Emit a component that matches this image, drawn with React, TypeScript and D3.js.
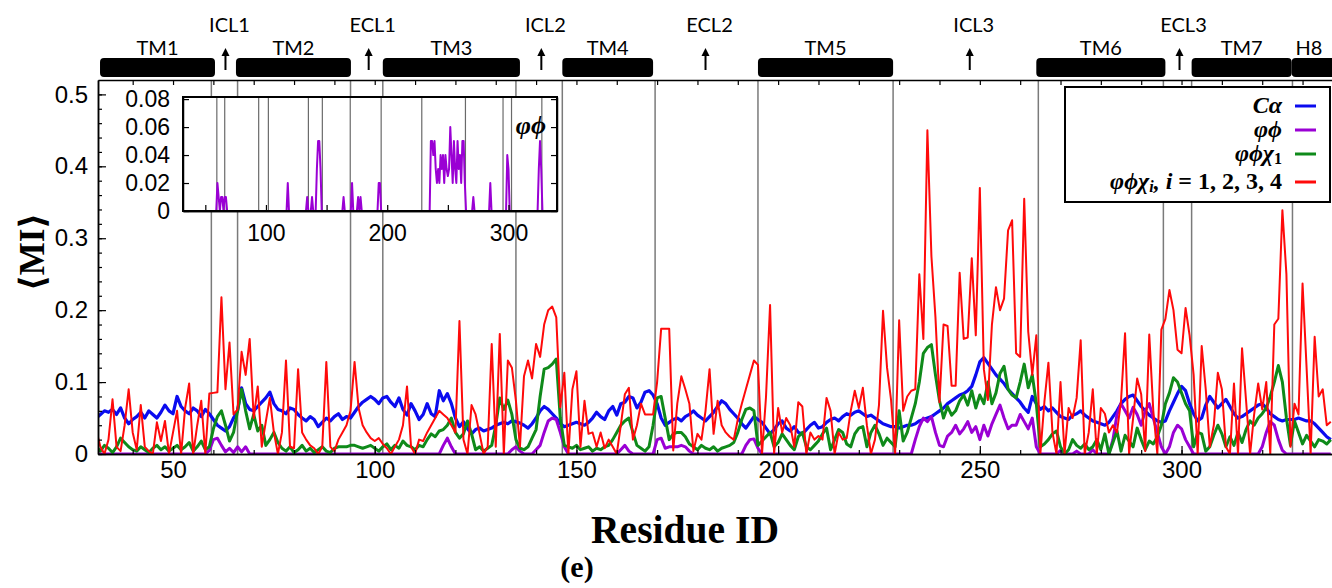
import React, { useEffect, useRef } from "react";
import * as d3 from "d3";

// per-residue MI values, residue 31 .. 337
const firstResidue = 31;

const caMI = [
	0.050, 0.055, 0.060, 0.058, 0.062, 0.055, 0.064, 0.050, 0.042, 0.048,
	0.052, 0.058, 0.050, 0.060, 0.055, 0.050, 0.058, 0.068, 0.060, 0.056,
	0.080, 0.066, 0.060, 0.056, 0.064, 0.060, 0.052, 0.062, 0.056, 0.048,
	0.040, 0.036, 0.032, 0.038, 0.050, 0.060, 0.092, 0.070, 0.062, 0.060,
	0.066, 0.072, 0.078, 0.086, 0.070, 0.062, 0.060, 0.056, 0.064, 0.062,
	0.055, 0.050, 0.046, 0.052, 0.048, 0.038, 0.044, 0.050, 0.046, 0.052,
	0.056, 0.048, 0.052, 0.050, 0.058, 0.066, 0.072, 0.076, 0.080, 0.076,
	0.070, 0.078, 0.080, 0.072, 0.066, 0.078, 0.062, 0.054, 0.070, 0.060,
	0.048, 0.055, 0.070, 0.056, 0.052, 0.088, 0.074, 0.084, 0.070, 0.050,
	0.038, 0.045, 0.035, 0.028, 0.034, 0.036, 0.032, 0.034, 0.036, 0.040,
	0.042, 0.044, 0.042, 0.046, 0.045, 0.043, 0.040, 0.036, 0.042, 0.050,
	0.060, 0.066, 0.062, 0.056, 0.050, 0.042, 0.038, 0.040, 0.042, 0.044,
	0.042, 0.040, 0.044, 0.050, 0.058, 0.052, 0.048, 0.060, 0.066, 0.054,
	0.070, 0.072, 0.080, 0.078, 0.064, 0.072, 0.086, 0.088, 0.082, 0.070,
	0.050, 0.040, 0.044, 0.048, 0.050, 0.046, 0.052, 0.055, 0.060, 0.054,
	0.050, 0.046, 0.052, 0.058, 0.066, 0.074, 0.070, 0.062, 0.056, 0.050,
	0.042, 0.036, 0.044, 0.052, 0.048, 0.044, 0.036, 0.028, 0.034, 0.042,
	0.046, 0.036, 0.032, 0.038, 0.030, 0.028, 0.034, 0.040, 0.044, 0.036,
	0.038, 0.044, 0.048, 0.050, 0.046, 0.052, 0.056, 0.054, 0.058, 0.060,
	0.056, 0.052, 0.054, 0.050, 0.046, 0.042, 0.040, 0.038, 0.038, 0.036,
	0.038, 0.040, 0.040, 0.042, 0.046, 0.048, 0.050, 0.052, 0.056, 0.060,
	0.064, 0.070, 0.074, 0.078, 0.082, 0.084, 0.088, 0.094, 0.110, 0.128,
	0.134, 0.126, 0.118, 0.110, 0.104, 0.098, 0.090, 0.084, 0.078, 0.072,
	0.064, 0.058, 0.080, 0.070, 0.062, 0.066, 0.060, 0.064, 0.058, 0.052,
	0.050, 0.048, 0.054, 0.056, 0.060, 0.054, 0.050, 0.046, 0.044, 0.042,
	0.040, 0.044, 0.052, 0.060, 0.070, 0.076, 0.080, 0.082, 0.074, 0.066,
	0.060, 0.054, 0.050, 0.046, 0.044, 0.046, 0.060, 0.072, 0.084, 0.094,
	0.088, 0.070, 0.056, 0.046, 0.050, 0.068, 0.080, 0.072, 0.064, 0.070,
	0.076, 0.066, 0.056, 0.050, 0.052, 0.056, 0.060, 0.064, 0.068, 0.070,
	0.064, 0.056, 0.052, 0.048, 0.046, 0.048, 0.048, 0.048, 0.050, 0.048,
	0.046, 0.046, 0.042, 0.036, 0.030, 0.024, 0.020,
];

const phiPsiMI = [
	0, 0, 0, 0, 0, 0, 0, 0, 0, 0,
	0, 0, 0, 0, 0, 0, 0, 0, 0, 0,
	0, 0, 0, 0, 0, 0, 0, 0, 0.005, 0.020,
	0.022, 0.012, 0.003, 0.008, 0.002, 0.010, 0.003, 0.010, 0, 0,
	0, 0, 0, 0, 0, 0, 0, 0, 0, 0,
	0, 0, 0, 0, 0, 0, 0, 0, 0, 0,
	0, 0, 0, 0, 0, 0, 0, 0, 0, 0,
	0, 0, 0, 0, 0, 0, 0, 0, 0, 0,
	0, 0, 0, 0, 0, 0, 0.012, 0.022, 0.010, 0,
	0, 0, 0, 0, 0, 0, 0, 0, 0, 0,
	0, 0, 0, 0.006, 0.010, 0.004, 0, 0, 0, 0.006,
	0.012, 0.030, 0.046, 0.050, 0.048, 0.030, 0.010, 0, 0, 0,
	0, 0, 0, 0, 0, 0, 0, 0, 0, 0,
	0.006, 0.012, 0.004, 0, 0, 0, 0, 0, 0, 0.020,
	0.022, 0.008, 0.010, 0.010, 0.010, 0.012, 0.010, 0.004, 0, 0,
	0, 0, 0, 0, 0, 0, 0, 0, 0, 0,
	0, 0.012, 0.020, 0.021, 0.008, 0, 0, 0, 0, 0,
	0, 0, 0, 0, 0, 0, 0, 0, 0, 0,
	0, 0, 0, 0, 0, 0, 0, 0, 0, 0,
	0, 0, 0, 0, 0, 0, 0, 0, 0, 0,
	0, 0, 0, 0.020, 0.038, 0.050, 0.045, 0.052, 0.030, 0.012,
	0.010, 0.025, 0.030, 0.040, 0.028, 0.035, 0.045, 0.030, 0.038, 0.020,
	0.040, 0.025, 0.042, 0.055, 0.068, 0.050, 0.035, 0.040, 0.040, 0.055,
	0.045, 0.035, 0.050, 0.010, 0, 0, 0, 0, 0, 0.005,
	0, 0, 0, 0.004, 0, 0, 0, 0.006, 0, 0,
	0, 0, 0.020, 0.055, 0.070, 0.060, 0.050, 0.065, 0.055, 0.040,
	0.060, 0.070, 0.050, 0.030, 0.010, 0, 0.010, 0.030, 0.040, 0.035,
	0.020, 0.010, 0, 0, 0, 0, 0, 0, 0, 0,
	0, 0, 0, 0, 0, 0, 0, 0, 0, 0.010,
	0.030, 0.045, 0.040, 0.020, 0.005, 0, 0, 0, 0, 0,
	0, 0, 0, 0, 0, 0, 0,
];

const chi1MI = [
	0.010, 0.004, 0.012, 0.008, 0.002, 0.010, 0.022, 0.016, 0.010, 0.006,
	0.004, 0.010, 0.006, 0.002, 0.008, 0.012, 0.006, 0.010, 0.004, 0.008,
	0.012, 0.006, 0.010, 0.016, 0.004, 0.010, 0.018, 0.006, 0.010, 0.035,
	0.052, 0.060, 0.040, 0.018, 0.030, 0.060, 0.090, 0.060, 0.035, 0.055,
	0.032, 0.040, 0.012, 0.020, 0.030, 0.016, 0.008, 0.004, 0.010, 0.002,
	0.006, 0.012, 0.004, 0.008, 0.002, 0.006, 0.010, 0.004, 0.002, 0.008,
	0.010, 0.010, 0.010, 0.012, 0.012, 0.010, 0.008, 0.010, 0.012, 0.008,
	0.004, 0.010, 0.014, 0.006, 0.012, 0.008, 0.018, 0.012, 0.010, 0.006,
	0.012, 0.010, 0.020, 0.028, 0.024, 0.032, 0.034, 0.040, 0.050, 0.030,
	0.022, 0.028, 0.046, 0.028, 0.006, 0.010, 0.004, 0.008, 0.012, 0.040,
	0.078, 0.062, 0.075, 0.055, 0.020, 0.008, 0.006, 0.010, 0.022, 0.034,
	0.080, 0.118, 0.120, 0.125, 0.132, 0.050, 0.012, 0.010, 0.008, 0.012,
	0.006, 0.008, 0.010, 0.004, 0.008, 0.006, 0.010, 0.012, 0.020, 0.030,
	0.040, 0.046, 0.050, 0.030, 0.012, 0.008, 0.004, 0.010, 0.040, 0.078,
	0.080, 0.050, 0.020, 0.028, 0.030, 0.030, 0.024, 0.014, 0.010, 0.006,
	0.012, 0.008, 0.006, 0.010, 0.004, 0.008, 0.010, 0.012, 0.016, 0.030,
	0.048, 0.062, 0.064, 0.060, 0.012, 0.018, 0.024, 0.030, 0.010, 0.016,
	0.028, 0.020, 0.012, 0.006, 0.024, 0.030, 0.010, 0.006, 0.012, 0.018,
	0.028, 0.036, 0.006, 0.020, 0.034, 0.030, 0.014, 0.010, 0.028, 0.036,
	0.038, 0.010, 0.030, 0.040, 0.028, 0.012, 0.022, 0.016, 0.010, 0.060,
	0.018, 0.030, 0.050, 0.070, 0.100, 0.140, 0.148, 0.152, 0.110, 0.074,
	0.050, 0.066, 0.054, 0.060, 0.074, 0.082, 0.068, 0.088, 0.064, 0.082,
	0.070, 0.100, 0.070, 0.085, 0.112, 0.122, 0.090, 0.082, 0.078, 0.100,
	0.125, 0.092, 0.110, 0.070, 0.010, 0.014, 0.020, 0.028, 0.032, 0.010,
	0.000, 0.006, 0.020, 0.012, 0.008, 0.014, 0.006, 0.010, 0.020, 0.006,
	0.028, 0.000, 0.016, 0.032, 0.004, 0.026, 0.018, 0.010, 0.036, 0.020,
	0.006, 0.018, 0.014, 0.024, 0.040, 0.070, 0.085, 0.106, 0.100, 0.085,
	0.070, 0.060, 0.010, 0.030, 0.028, 0.004, 0.010, 0.026, 0.040, 0.028,
	0.010, 0.024, 0.012, 0.030, 0.016, 0.034, 0.046, 0.040, 0.050, 0.056,
	0.064, 0.080, 0.100, 0.123, 0.100, 0.050, 0.012, 0.046, 0.030, 0.014,
	0.026, 0.018, 0.010, 0.020, 0.018, 0.014, 0.020,
];

const chiAllMI = [
	0.032, 0.010, 0.000, 0.020, 0.076, 0.010, 0.004, 0.040, 0.090, 0.030,
	0.006, 0.068, 0.010, 0.004, 0.000, 0.044, 0.018, 0.046, 0.000, 0.030,
	0.060, 0.000, 0.064, 0.098, 0.000, 0.040, 0.074, 0.000, 0.084, 0.085,
	0.086, 0.218, 0.090, 0.155, 0.055, 0.062, 0.142, 0.110, 0.160, 0.050,
	0.094, 0.010, 0.045, 0.078, 0.030, 0.000, 0.030, 0.130, 0.010, 0.008,
	0.118, 0.030, 0.020, 0.012, 0.008, 0.000, 0.010, 0.128, 0.010, 0.004,
	0.020, 0.030, 0.040, 0.060, 0.128, 0.064, 0.040, 0.030, 0.022, 0.018,
	0.022, 0.014, 0.008, 0.000, 0.010, 0.020, 0.040, 0.094, 0.010, 0.000,
	0.020, 0.018, 0.030, 0.040, 0.050, 0.060, 0.055, 0.050, 0.040, 0.030,
	0.185, 0.020, 0.000, 0.068, 0.055, 0.028, 0.000, 0.010, 0.153, 0.010,
	0.167, 0.000, 0.130, 0.120, 0.074, 0.010, 0.108, 0.130, 0.105, 0.153,
	0.135, 0.180, 0.200, 0.205, 0.190, 0.065, 0.113, 0.000, 0.090, 0.115,
	0.010, 0.074, 0.028, 0.030, 0.010, 0.030, 0.008, 0.020, 0.010, 0.000,
	0.040, 0.083, 0.092, 0.020, 0.040, 0.070, 0.055, 0.055, 0.055, 0.100,
	0.174, 0.174, 0.174, 0.005, 0.070, 0.108, 0.090, 0.070, 0.004, 0.028,
	0.020, 0.060, 0.118, 0.028, 0.074, 0.040, 0.030, 0.024, 0.020, 0.048,
	0.070, 0.090, 0.110, 0.130, 0.124, 0.000, 0.080, 0.207, 0.000, 0.064,
	0.030, 0.050, 0.040, 0.010, 0.072, 0.066, 0.000, 0.030, 0.020, 0.025,
	0.020, 0.078, 0.060, 0.000, 0.030, 0.020, 0.022, 0.060, 0.088, 0.064,
	0.092, 0.040, 0.000, 0.020, 0.068, 0.199, 0.120, 0.075, 0.000, 0.186,
	0.060, 0.080, 0.088, 0.090, 0.250, 0.160, 0.450, 0.275, 0.190, 0.072,
	0.180, 0.178, 0.095, 0.095, 0.252, 0.160, 0.162, 0.272, 0.165, 0.370,
	0.118, 0.075, 0.180, 0.232, 0.200, 0.216, 0.311, 0.325, 0.140, 0.135,
	0.355, 0.170, 0.110, 0.165, 0.000, 0.072, 0.127, 0.030, 0.000, 0.100,
	0.000, 0.064, 0.050, 0.078, 0.158, 0.000, 0.030, 0.090, 0.000, 0.064,
	0.056, 0.030, 0.040, 0.030, 0.074, 0.168, 0.000, 0.050, 0.105, 0.083,
	0.004, 0.166, 0.060, 0.000, 0.173, 0.188, 0.228, 0.200, 0.145, 0.140,
	0.203, 0.165, 0.110, 0.000, 0.150, 0.090, 0.010, 0.040, 0.113, 0.090,
	0.010, 0.000, 0.098, 0.000, 0.147, 0.074, 0.000, 0.055, 0.098, 0.062,
	0.100, 0.000, 0.180, 0.188, 0.339, 0.250, 0.010, 0.070, 0.055, 0.237,
	0.120, 0.000, 0.163, 0.080, 0.090, 0.040, 0.045,
];

// inset: phi-psi MI, sparse points (residue, value)
const insetResidues = [
	31.6, 59, 60, 61, 62, 63, 64, 65, 66, 67, 68, 117, 118, 119, 133, 134, 135, 137, 138, 139,
	141, 142, 143, 144, 145, 146, 163, 164, 165, 170, 171, 172, 175, 176, 177, 178, 179,
	192, 193, 194, 195, 235, 236, 237, 238, 239, 240, 241, 242, 243, 244, 245, 246, 247,
	248, 249, 250, 251, 252, 253, 254, 255, 256, 257, 258, 259, 260, 261, 262, 263, 264,
	265, 270, 271, 272, 284, 285, 286, 298, 299, 300, 301, 324, 325, 326, 327, 328, 340,
];
const insetMI = [
	0, 0, 0.02, 0.01, 0, 0.01, 0.01, 0, 0.01, 0.01, 0, 0, 0.02, 0, 0, 0.01, 0, 0, 0.01, 0,
	0, 0.03, 0.05, 0.05, 0.03, 0, 0, 0.01, 0, 0, 0.02, 0, 0, 0.01, 0, 0.01, 0,
	0, 0.02, 0.02, 0, 0, 0.05, 0.05, 0.04, 0.05, 0.03, 0.02, 0.03, 0.02, 0.04, 0.03, 0.04, 0.02,
	0.04, 0.03, 0.025, 0.03, 0.06, 0.04, 0.02, 0.05, 0.03, 0.02, 0.05, 0.03, 0.04, 0.02, 0.05, 0.05, 0.02,
	0, 0, 0.01, 0, 0, 0.02, 0, 0, 0.04, 0.03, 0, 0, 0.03, 0.05, 0.03, 0, 0,
];

const seriesNames = ["Cα", "φϕ", "φϕχ1", "φϕχi"];
const seriesColors = ["#0b0bef", "#9a00d4", "#0f8a1a", "#ff0a0a"];

const boundaryResidues = [59.5, 66, 94, 102, 135, 146.5, 169.5, 195, 228.5, 264.5, 295.5, 302.5, 327.5];
const helixNames = ["TM1", "TM2", "TM3", "TM4", "TM5", "TM6", "TM7", "H8"];
const helixStart = [31.9, 65.6, 102, 146.5, 195, 264, 302.5, 327.3];
const helixEnd = [60.4, 94.1, 136, 169, 228.5, 296, 327.3, 345];
const loopNames = ["ICL1", "ECL1", "ICL2", "ECL2", "ICL3", "ECL3"];
const loopResidues = [63, 98.5, 141.3, 182, 247.5, 299.5];

const yTicks = [0, 0.1, 0.2, 0.3, 0.4, 0.5];
const yMinorTicks = d3.range(0, 0.52, 0.02);
const xTicks = [50, 100, 150, 200, 250, 300];
const xMinorTicks = d3.range(40, 340, 10);
const insetYTicks = [0, 0.02, 0.04, 0.06, 0.08];
const insetXTicks = [100, 200, 300];
const insetXMinor = [50, 100, 150, 200, 250, 300];

function MIChart() {
	const svgRef = useRef<SVGSVGElement>(null);

	useEffect(() => {
		const svg = d3.select(svgRef.current);
		svg.selectAll("*").remove();

		const sans = "'Liberation Sans', Arial, sans-serif";
		const serif = "'Liberation Serif', 'DejaVu Serif', serif";

		const x = d3.scaleLinear().domain([31.4, 337.3]).range([98, 1332]);
		const y = d3.scaleLinear().domain([0, 0.52]).range([454, 80]);
		const residues = caMI.map((_, i) => firstResidue + i);

		svg.append("defs")
			.append("clipPath")
			.attr("id", "plotClip")
			.append("rect")
			.attr("x", 98)
			.attr("y", 80)
			.attr("width", 1332 - 98)
			.attr("height", 454 - 80);

		// region boundaries
		svg.append("g")
			.selectAll("line")
			.data(boundaryResidues)
			.enter()
			.append("line")
			.attr("x1", (d) => x(d))
			.attr("x2", (d) => x(d))
			.attr("y1", y(0.52))
			.attr("y2", y(0))
			.attr("stroke", "#7a7a7a")
			.attr("stroke-width", 1.5);

		// series
		const allSeries = [caMI, phiPsiMI, chi1MI, chiAllMI];
		const widths = [3.2, 3, 3, 2];
		const line = d3
			.line<number>()
			.x((d, i) => x(residues[i]))
			.y((d) => y(d));
		const plot = svg.append("g").attr("clip-path", "url(#plotClip)");
		allSeries.forEach((values, k) => {
			plot.append("path")
				.attr("d", line(values))
				.attr("fill", "none")
				.attr("stroke", seriesColors[k])
				.attr("stroke-width", widths[k])
				.attr("stroke-linejoin", "round");
		});

		// axes
		const styleAxis = (g) => {
			g.selectAll("path").attr("stroke", "#000").attr("stroke-width", 1.5);
			g.selectAll("line").attr("stroke", "#000").attr("stroke-width", 1.2);
			g.selectAll("text").attr("font-family", sans).attr("font-size", 24).attr("fill", "#000");
		};
		svg.append("g")
			.attr("transform", "translate(0,454)")
			.call(d3.axisBottom(x).tickValues(xMinorTicks).tickSize(-4).tickSizeOuter(0).tickFormat(() => ""))
			.call(styleAxis);
		svg.append("g")
			.attr("transform", "translate(0,454)")
			.call(d3.axisBottom(x).tickValues(xTicks).tickSize(-8).tickSizeOuter(0).tickPadding(7))
			.call(styleAxis);
		svg.append("g")
			.attr("transform", "translate(0,80)")
			.call(d3.axisTop(x).tickValues(xMinorTicks).tickSize(-5).tickSizeOuter(0).tickFormat(() => ""))
			.call(styleAxis);
		svg.append("g")
			.attr("transform", "translate(98,0)")
			.call(d3.axisLeft(y).tickValues(yMinorTicks).tickSize(-4).tickSizeOuter(0).tickFormat(() => ""))
			.call(styleAxis);
		svg.append("g")
			.attr("transform", "translate(98,0)")
			.call(
				d3.axisLeft(y)
					.tickValues(yTicks)
					.tickSize(-8)
					.tickSizeOuter(0)
					.tickPadding(10)
					.tickFormat((d) => String(d))
			)
			.call(styleAxis);

		// axis titles
		svg.append("text")
			.attr("transform", "translate(44,252) rotate(-90)")
			.attr("text-anchor", "middle")
			.attr("font-family", serif)
			.attr("font-weight", "bold")
			.attr("font-size", 35)
			.text("⟨MI⟩");
		svg.append("text")
			.attr("x", 685)
			.attr("y", 543)
			.attr("text-anchor", "middle")
			.attr("font-family", serif)
			.attr("font-weight", "bold")
			.attr("font-size", 40)
			.attr("textLength", 188)
			.attr("lengthAdjust", "spacingAndGlyphs")
			.text("Residue ID");
		svg.append("text")
			.attr("x", 577)
			.attr("y", 577)
			.attr("text-anchor", "middle")
			.attr("font-family", serif)
			.attr("font-weight", "bold")
			.attr("font-size", 30)
			.text("(e)");

		// helices and loops along the top
		const topFont = "Lato, 'Open Sans', sans-serif";
		const helices = svg.append("g");
		helixNames.forEach((name, i) => {
			helices.append("rect")
				.attr("x", x(helixStart[i]))
				.attr("y", 58)
				.attr("width", x(helixEnd[i]) - x(helixStart[i]))
				.attr("height", 19)
				.attr("rx", 4)
				.attr("fill", "#000");
			helices.append("text")
				.attr("x", (x(helixStart[i]) + Math.min(x(helixEnd[i]), 1332)) / 2 + (name === "H8" ? -3 : 0))
				.attr("y", 55)
				.attr("text-anchor", "middle")
				.attr("font-family", topFont)
				.attr("font-size", 20)
				.text(name);
		});
		loopNames.forEach((name, i) => {
			const lx = x(loopResidues[i]);
			helices.append("line")
				.attr("x1", lx)
				.attr("x2", lx)
				.attr("y1", 70)
				.attr("y2", 54)
				.attr("stroke", "#000")
				.attr("stroke-width", 2);
			helices.append("path")
				.attr("d", `M${lx - 4},${56} L${lx},${48} L${lx + 4},${56} Z`)
				.attr("fill", "#000");
			helices.append("text")
				.attr("x", lx + 4)
				.attr("y", 32)
				.attr("text-anchor", "middle")
				.attr("font-family", topFont)
				.attr("font-size", 20)
				.text(name);
		});

		// inset
		const ix = d3.scaleLinear().domain([31.6, 340]).range([183, 557]);
		const iy = d3.scaleLinear().domain([0, 0.0815]).range([211, 97]);
		const inset = svg.append("g");
		inset.append("rect")
			.attr("x", 183)
			.attr("y", 97)
			.attr("width", 557 - 183)
			.attr("height", 211 - 97)
			.attr("fill", "#fff");
		inset.selectAll(".iv")
			.data(boundaryResidues)
			.enter()
			.append("line")
			.attr("x1", (d) => ix(d))
			.attr("x2", (d) => ix(d))
			.attr("y1", 97)
			.attr("y2", 211)
			.attr("stroke", "#6a6a6a")
			.attr("stroke-width", 1.2);
		const insetLine = d3
			.line<number>()
			.x((d, i) => ix(insetResidues[i]))
			.y((d) => iy(d));
		inset.append("path")
			.attr("d", insetLine(insetMI))
			.attr("fill", "none")
			.attr("stroke", seriesColors[1])
			.attr("stroke-width", 2)
			.attr("stroke-linejoin", "round");
		inset.append("g")
			.attr("transform", "translate(183,0)")
			.call(
				d3.axisLeft(iy)
					.tickValues(insetYTicks)
					.tickSize(-6)
					.tickSizeOuter(0)
					.tickPadding(13)
					.tickFormat((d) => String(d))
			)
			.call(styleAxis)
			.call((g) => g.selectAll("text").attr("font-size", 23));
		inset.append("g")
			.attr("transform", "translate(557,0)")
			.call(d3.axisRight(iy).tickValues(insetYTicks).tickSize(-6).tickSizeOuter(0).tickFormat(() => ""))
			.call(styleAxis);
		inset.append("g")
			.attr("transform", "translate(0,211)")
			.call(d3.axisBottom(ix).tickValues(insetXMinor).tickSize(-6).tickSizeOuter(0).tickFormat(() => ""))
			.call(styleAxis);
		inset.append("g")
			.attr("transform", "translate(0,211)")
			.call(d3.axisBottom(ix).tickValues(insetXTicks).tickSize(0).tickSizeOuter(0).tickPadding(14))
			.call(styleAxis)
			.call((g) => g.selectAll("text").attr("font-size", 23));
		inset.append("rect")
			.attr("x", 183)
			.attr("y", 97)
			.attr("width", 557 - 183)
			.attr("height", 211 - 97)
			.attr("fill", "none")
			.attr("stroke", "#000")
			.attr("stroke-width", 2);
		inset.append("text")
			.attr("x", 546)
			.attr("y", 134)
			.attr("text-anchor", "end")
			.attr("font-family", serif)
			.attr("font-weight", "bold")
			.attr("font-style", "italic")
			.attr("font-size", 26)
			.text("φϕ");

		// legend
		const legend = svg.append("g");
		legend.append("rect")
			.attr("x", 1065)
			.attr("y", 87)
			.attr("width", 265)
			.attr("height", 115)
			.attr("fill", "#fff")
			.attr("stroke", "#000")
			.attr("stroke-width", 2);
		const rowY = [106, 130, 154, 182];
		seriesNames.forEach((name, i) => {
			legend.append("line")
				.attr("x1", 1295)
				.attr("x2", 1316)
				.attr("y1", rowY[i])
				.attr("y2", rowY[i])
				.attr("stroke", seriesColors[i])
				.attr("stroke-width", 3);
			const t = legend.append("text")
				.attr("x", 1282)
				.attr("y", rowY[i] + 7)
				.attr("text-anchor", "end")
				.attr("font-family", serif)
				.attr("font-weight", "bold")
				.attr("font-style", "italic")
				.attr("font-size", 24);
			if (name === "φϕχ1") {
				t.append("tspan").text("φϕχ");
				t.append("tspan").attr("dy", 3).attr("font-size", 16).attr("font-style", "normal").text("1");
			} else if (name === "φϕχi") {
				t.append("tspan").text("φϕχ");
				t.append("tspan").attr("dy", 3).attr("font-size", 16).text("i");
				t.append("tspan").attr("dy", -3).text(", i ");
				t.append("tspan").attr("font-style", "normal").text("= 1, 2, 3, 4");
			} else {
				t.text(name);
			}
		});
	}, []);

	return <svg ref={svgRef} width={1332} height={588} style={{ display: "block" }}></svg>;
}

export default function App() {
	return (
		<div style={{ position: "absolute", left: 0, top: 0, width: 1332, height: 588, background: "#fff" }}>
			<MIChart />
		</div>
	);
}
